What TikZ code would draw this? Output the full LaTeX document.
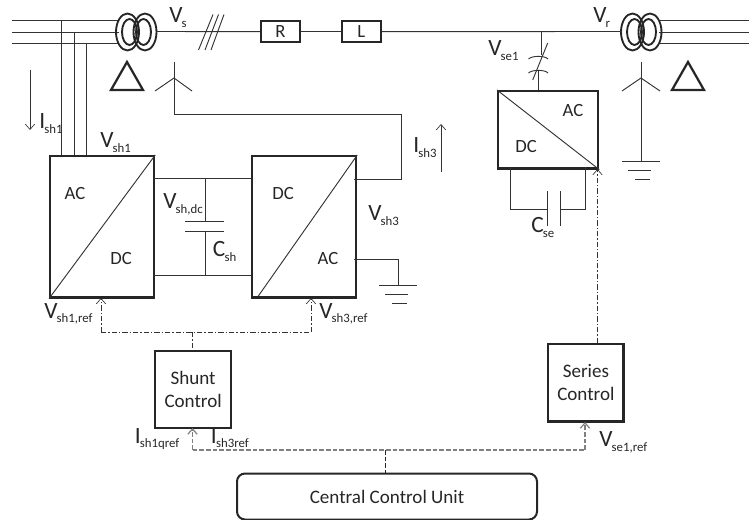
\documentclass[tikz,border=0pt]{standalone}
\usepackage{fontspec}
\setmainfont{Carlito}
\usetikzlibrary{arrows.meta}
\definecolor{ln}{gray}{0.2}
\definecolor{gl}{gray}{0.5}
\tikzset{
 wire/.style={draw=ln,line width=0.7pt},
 heavy/.style={draw=black!85,line width=1.7pt},
 boxn/.style={heavy,inner sep=0,anchor=north west,align=center},
 openarrow/.style={-{Straight Barb[length=4pt,width=7pt]}},
 dashdot/.style={draw=ln,line width=0.5pt,dash pattern=on 4pt off 1.5pt on 1pt off 1.5pt},
 gdash/.style={draw=gl,line width=0.9pt,dash pattern=on 3.5pt off 1.5pt},
 lbl/.style={font=\fontsize{14}{16}\selectfont,inner sep=0,text=black!85},
 ctl/.style={font=\fontsize{14.3}{17}\selectfont,align=center,inner sep=0,text=black!85},
 winding/.style={line width=1.4pt,draw=black!85},
 delta/.style={line width=1.7pt,draw=black!85,line join=miter},
}
\begin{document}
\begin{tikzpicture}[x=0.75pt,y=-0.75pt]
\useasboundingbox (0,0) rectangle (749,520);
% buses
\foreach \y/\n in {20/a,32.5/b,43.5/c}{
 \coordinate (l\n) at (12,\y); \coordinate (tl\n) at (119,\y);
 \draw[wire] (l\n) -- (tl\n);
 \coordinate (r\n) at (749,\y); \coordinate (tr\n) at (659,\y);
 \draw[wire] (tr\n) -- (r\n);
}
% transformers
\foreach \xx in {0,505}{
 \begin{scope}[xshift=\xx*0.75pt]
 \draw[winding] (127.5,32) ellipse [x radius=11.5,y radius=18.5];
 \draw[winding] (129.5,32) ellipse [x radius=7.5,y radius=13];
 \draw[winding] (145,32) ellipse [x radius=11.5,y radius=18.5];
 \draw[winding] (143.5,32) ellipse [x radius=7.5,y radius=13];
 \end{scope}
}
\draw[delta] (127,62) -- (143,90) -- (111,90) -- cycle;
\draw[delta] (688,62) -- (704,90) -- (672,90) -- cycle;
% main line
\node[boxn,minimum width=28.9pt,minimum height=15.75pt,font=\fontsize{14}{16}\selectfont,text=black!85] (R) at (260,20) {R};
\node[boxn,minimum width=28.9pt,minimum height=15.75pt,font=\fontsize{14}{16}\selectfont,text=black!85] (L) at (341,20) {L};
\coordinate (ts) at (156.5,31.5); \coordinate (tr) at (621.5,31.5);
\draw[wire] (ts) -- (R.west);
\draw[wire] (R.east) -- (L.west);
\draw[wire] (L.east) -- (tr);
\draw[wire] (198.5,50) -- (213,14.5);
\draw[wire] (205,50) -- (218.5,14.5);
\draw[wire] (211,50) -- (224,14.5);
% converters
\node[boxn,minimum width=78pt,minimum height=106pt] (c1) at (49,155) {};
\node[boxn,minimum width=78pt,minimum height=106pt] (c2) at (251,155) {};
\node[boxn,minimum width=75pt,minimum height=58pt] (c3) at (497,90) {};
\draw[wire] (c1.south west) -- (c1.north east);
\draw[wire] (258,296.5) -- (c2.north east);
\draw[wire] (c3.north west) -- (c3.south east);
\node[lbl] at (75,194) {AC};
\node[lbl] at (121,259) {DC};
\node[lbl] at (283,194) {DC};
\node[lbl] at (328,259) {AC};
\node[lbl] at (573,111) {AC};
\node[lbl] at (526,147) {DC};
% shunt feeders
\foreach \x/\y/\n in {61.5/20/a,74/32.5/b,86.5/43.5/c}{
 \coordinate (f\n) at (\x,155);
 \draw[wire] (\x,\y) -- (f\n);
}
% dc link
\draw[wire] (153,178) -- (251,178);
\draw[wire] (153,275) -- (251,275);
\draw[wire] (205,178) -- (205,221);
\draw[wire] (205,231) -- (205,275);
\draw[wire] (185,221) -- (224,221);
\draw[wire] (185,231) -- (224,231);
% wye 1
\draw[wire] (174,62) -- (174,114) -- (401.5,114) -- (401.5,179) -- (354,179);
\draw[wire] (155,91) -- (174,78) -- (192,91);
% ground c2
\draw[wire] (354,259) -- (398.5,259) -- (398.5,285);
\draw[wire] (379,285) -- (417,285);
\draw[wire] (385,294) -- (408,294);
\draw[wire] (392,303) -- (407,303);
% wye 2
\draw[wire] (641,62) -- (641,161);
\draw[wire] (622,91) -- (641,78) -- (660,91);
\draw[wire] (622,161) -- (660,161);
\draw[wire] (628,170) -- (651,170);
\draw[wire] (635,179) -- (650,179);
% series injection
\draw[wire] (541.5,32) -- (541.5,55);
\draw[wire] (538,71) -- (538,90);
\draw[wire] (532.7,80) -- (547.7,43);
\draw[wire] (528.5,59) .. controls (532,55.5) and (545,55.5) .. (548,59);
\draw[wire] (528.5,73) .. controls (532,69.5) and (545,69.5) .. (548,73);
% series cap
\draw[wire] (510,167) -- (510,209) -- (547.5,209);
\draw[wire] (560,209) -- (585,209) -- (585,167);
\draw[wire] (547.5,191) -- (547.5,226);
\draw[wire] (560,191) -- (560,226);
% control boxes
\node[boxn,minimum width=57pt,minimum height=58pt] (sh) at (154,349.5) {};
\node[ctl] at (sh.center) {Shunt\\Control};
\node[boxn,minimum width=56.6pt,minimum height=58pt] (se) at (547,343) {};
\node[ctl] at (se.center) {Series\\Control};
\node[draw=black!85,line width=1.5pt,rounded corners=6pt,minimum width=225pt,minimum height=34.5pt,inner sep=0,anchor=north west,font=\fontsize{14.3}{17}\selectfont,text=black!85] (ccu) at (236,472.5) {Central Control Unit};
% control signals
\coordinate (d1) at (101,332); \coordinate (d2) at (311,332); \coordinate (d3) at (192.5,332);
\draw[dashdot,openarrow] (d1) -- (101,298);
\draw[dashdot] (d1) -- (d2);
\draw[dashdot,openarrow] (d2) -- (311,298);
\draw[dashdot] (d3) -- (d3 |- sh.north);
\coordinate (s1) at (597.5,343);
\draw[dashdot,openarrow] (s1) -- (597.5,169);
\coordinate (e1) at (192.5,450); \coordinate (e2) at (585,450); \coordinate (e3) at (385,450);
\draw[gdash,openarrow] (e1) -- (192.5,428);
\draw[gdash] (e1) -- (e2);
\draw[gdash,openarrow] (e2) -- (585,422);
\draw[draw=black!85,line width=0.7pt,dash pattern=on 3.5pt off 1.5pt] (e3) -- (e3 |- ccu.north);
% current arrows
\draw[draw=ln,line width=0.5pt,openarrow] (30,70) -- (30,130);
\draw[draw=ln,line width=0.5pt,openarrow] (441,172) -- (441,124);
% labels
\newcommand{\Lab}[3]{\node[anchor=base west,inner sep=0,text=black!85,font=\fontsize{17.5}{20}\selectfont] at (#1) {#2\kern-0.6pt\raisebox{-3.6pt}{\fontsize{9.6}{11}\selectfont #3}};}
\Lab{169,22.7}{V}{s}
\Lab{39,129}{I}{sh1}
\Lab{100,148}{V}{sh1}
\Lab{163,209}{V}{sh,dc}
\Lab{212.7,257}{C}{sh}
\Lab{368,221}{V}{sh3}
\Lab{413,153}{I}{sh3}
\Lab{44,318}{V}{sh1,ref}
\Lab{319,318}{V}{sh3,ref}
\Lab{488,56}{V}{se1}
\Lab{593,22.7}{V}{r}
\Lab{531,232.7}{C}{se}
\Lab{134.6,443}{I}{sh1qref}
\Lab{210.7,443}{I}{sh3ref}
\Lab{599,446.7}{V}{se1,ref}
\end{tikzpicture}
\end{document}
